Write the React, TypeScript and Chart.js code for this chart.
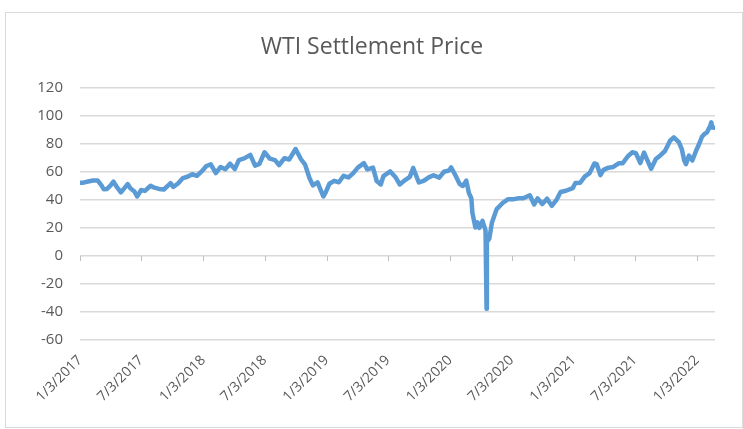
import React, { useEffect, useRef } from "react";
import { Chart, registerables } from "chart.js";

Chart.register(...registerables);

const chartTitle = "WTI Settlement Price";
const axisStart = "2017-01-03";
const xTickLabels = [
  "1/3/2017", "7/3/2017", "1/3/2018", "7/3/2018", "1/3/2019", "7/3/2019",
  "1/3/2020", "7/3/2020", "1/3/2021", "7/3/2021", "1/3/2022",
];
const yMin = -60;
const yMax = 120;
const yStep = 20;

const dates2017 = [
  "2017-01-03", "2017-01-13", "2017-01-27", "2017-02-10", "2017-02-24", "2017-03-08", "2017-03-14",
  "2017-03-24", "2017-04-03", "2017-04-12", "2017-04-21", "2017-05-04", "2017-05-12", "2017-05-24",
  "2017-06-01", "2017-06-13", "2017-06-21", "2017-07-03", "2017-07-14", "2017-07-31", "2017-08-11",
  "2017-08-25", "2017-09-08", "2017-09-22", "2017-09-28", "2017-10-06", "2017-10-20", "2017-11-03",
  "2017-11-17", "2017-12-01", "2017-12-15", "2017-12-29",
];
const prices2017 = [
  52.3, 52.4, 53.2, 53.9, 54.0, 50.3, 47.7,
  47.9, 50.2, 53.1, 49.6, 45.5, 47.8, 51.4,
  48.4, 46.1, 42.5, 47.1, 46.5, 50.2, 48.8,
  47.9, 47.5, 50.7, 52.1, 49.3, 51.8, 55.6,
  56.6, 58.4, 57.3, 60.4,
];

const dates2018 = [
  "2018-01-12", "2018-01-25", "2018-02-09", "2018-02-23", "2018-03-09", "2018-03-23", "2018-04-06",
  "2018-04-18", "2018-05-04", "2018-05-22", "2018-06-05", "2018-06-18", "2018-07-03", "2018-07-19",
  "2018-08-03", "2018-08-15", "2018-08-31", "2018-09-14", "2018-10-03", "2018-10-19", "2018-10-31",
  "2018-11-13", "2018-11-23", "2018-12-07", "2018-12-24", "2018-12-31",
];
const prices2018 = [
  64.3, 65.5, 59.2, 63.6, 62.0, 65.9, 62.1,
  68.5, 69.7, 72.2, 64.5, 65.8, 74.1, 69.5,
  68.5, 65.0, 69.8, 68.9, 76.4, 69.1, 65.3,
  55.7, 50.4, 52.6, 42.5, 45.4,
];

const dates2019 = [
  "2019-01-11", "2019-01-25", "2019-02-08", "2019-02-22", "2019-03-08", "2019-03-22", "2019-04-05",
  "2019-04-23", "2019-05-03", "2019-05-20", "2019-05-31", "2019-06-12", "2019-06-20", "2019-07-10",
  "2019-07-26", "2019-08-07", "2019-08-23", "2019-09-06", "2019-09-16", "2019-09-30", "2019-10-03",
  "2019-10-18", "2019-11-01", "2019-11-15", "2019-12-02", "2019-12-16", "2019-12-31",
];
const prices2019 = [
  51.6, 53.7, 52.7, 57.3, 56.1, 59.0, 63.1,
  66.3, 61.9, 63.1, 53.5, 51.1, 57.1, 60.4,
  56.2, 51.1, 54.2, 56.5, 62.9, 54.1, 52.5,
  53.8, 56.2, 57.7, 56.0, 60.2, 61.1,
];

const dates2020 = [
  "2020-01-06", "2020-01-17", "2020-01-31", "2020-02-10", "2020-02-20", "2020-02-28", "2020-03-06",
  "2020-03-09", "2020-03-18", "2020-03-24", "2020-03-30", "2020-04-08", "2020-04-17", "2020-04-20",
  "2020-04-21", "2020-04-28", "2020-05-06", "2020-05-20", "2020-06-08", "2020-06-22", "2020-07-10",
  "2020-07-24", "2020-08-07", "2020-08-26", "2020-09-08", "2020-09-18", "2020-10-02", "2020-10-16",
  "2020-10-30", "2020-11-13", "2020-11-25", "2020-12-11", "2020-12-31",
];
const prices2020 = [
  63.3, 58.5, 51.6, 50.0, 53.8, 44.8, 41.3,
  31.1, 20.4, 24.0, 20.1, 25.1, 18.3, -37.6,
  10.0, 12.3, 24.0, 33.5, 38.2, 40.5, 40.6,
  41.3, 41.2, 43.4, 36.8, 41.1, 37.1, 40.9,
  35.8, 40.1, 45.7, 46.6, 48.5,
];

const dates2021 = [
  "2021-01-08", "2021-01-22", "2021-02-05", "2021-02-19", "2021-03-05", "2021-03-12", "2021-03-23",
  "2021-04-01", "2021-04-16", "2021-04-30", "2021-05-17", "2021-05-28", "2021-06-11", "2021-06-25",
  "2021-07-06", "2021-07-19", "2021-07-30", "2021-08-20", "2021-09-03", "2021-09-17", "2021-09-30",
  "2021-10-15", "2021-10-26", "2021-11-10", "2021-11-19", "2021-11-26", "2021-12-01", "2021-12-10",
  "2021-12-20", "2021-12-31",
];
const prices2021 = [
  52.2, 52.3, 56.9, 59.2, 66.1, 65.6, 57.8,
  61.5, 63.1, 63.6, 66.3, 66.3, 70.9, 74.1,
  73.4, 66.4, 73.9, 62.3, 69.3, 72.0, 75.0,
  82.3, 84.7, 81.3, 76.1, 68.2, 65.6, 71.7,
  68.2, 75.2,
];

const dates2022 = [
  "2022-01-07", "2022-01-18", "2022-01-26", "2022-02-01", "2022-02-11", "2022-02-14", "2022-02-17",
  "2022-02-25",
];
const prices2022 = [78.9, 85.4, 87.4, 88.2, 93.1, 95.5, 91.8, 91.6];

const DAY = 86400000;
function isoDay(iso: string): number {
  const [y, m, d] = iso.split("-").map(Number);
  const [y0, m0, d0] = axisStart.split("-").map(Number);
  return Math.round((Date.UTC(y, m - 1, d) - Date.UTC(y0, m0 - 1, d0)) / DAY);
}
function usDay(label: string): number {
  const [m, d, y] = label.split("/").map(Number);
  return isoDay(`${y}-${String(m).padStart(2, "0")}-${String(d).padStart(2, "0")}`);
}

const allDates = [...dates2017, ...dates2018, ...dates2019, ...dates2020, ...dates2021, ...dates2022];
const allPrices = [...prices2017, ...prices2018, ...prices2019, ...prices2020, ...prices2021, ...prices2022];
const tickValues = xTickLabels.map(usDay);

const FONT = "'Open Sans', sans-serif";
const TEXT = "#595959";
const GRID = "#d9d9d9";

export default function App() {
  const ref = useRef<HTMLCanvasElement | null>(null);

  useEffect(() => {
    if (!ref.current) return;
    const points = allDates.map((d, i) => ({ x: isoDay(d), y: allPrices[i] }));

    const decor = {
      id: "decor",
      beforeDraw(chart: any) {
        const c = chart.ctx;
        c.save();
        c.fillStyle = "#ffffff";
        c.fillRect(0, 0, chart.width, chart.height);
        c.strokeStyle = GRID;
        c.lineWidth = 1;
        c.strokeRect(5.5, 12.5, 737, 415);
        c.restore();
      },
      beforeDatasetsDraw(chart: any) {
        const c = chart.ctx;
        const xs = chart.scales.x;
        const y0 = chart.scales.y.getPixelForValue(0);
        c.save();
        c.strokeStyle = "#bfbfbf";
        c.lineWidth = 1;
        c.beginPath();
        tickValues.forEach((v) => {
          const px = Math.round(xs.getPixelForValue(v)) + 0.5;
          c.moveTo(px, y0);
          c.lineTo(px, y0 + 5);
        });
        c.stroke();
        c.restore();
      },
      afterDraw(chart: any) {
        const c = chart.ctx;
        c.save();
        c.fillStyle = TEXT;
        c.font = `23px ${FONT}`;
        c.textAlign = "center";
        c.textBaseline = "middle";
        c.fillText(chartTitle, 372, 47);
        c.restore();
      },
    };

    const chart = new Chart(ref.current, {
      type: "line",
      data: {
        datasets: [
          {
            label: chartTitle,
            data: points,
            borderColor: "#5b9bd5",
            backgroundColor: "#5b9bd5",
            borderWidth: 4.5,
            pointRadius: 0,
            tension: 0,
            borderJoinStyle: "round",
            borderCapStyle: "round",
          },
        ],
      },
      options: {
        animation: false,
        responsive: false,
        layout: { padding: { top: 88, right: 28, bottom: 0, left: 0 } },
        plugins: { legend: { display: false }, title: { display: false }, tooltip: { enabled: false } },
        scales: {
          x: {
            type: "linear",
            min: 0,
            max: isoDay(allDates[allDates.length - 1]),
            grid: { display: false },
            border: { display: false },
            afterBuildTicks: (s: any) => {
              s.ticks = tickValues.map((v) => ({ value: v }));
            },
            afterFit: (s: any) => {
              s.height = 89;
            },
            ticks: {
              autoSkip: false,
              minRotation: 45,
              maxRotation: 45,
              padding: 4,
              color: TEXT,
              font: { family: FONT, size: 14 },
              callback: (v: any) => {
                const i = tickValues.indexOf(Number(v));
                return i >= 0 ? xTickLabels[i] : "";
              },
            },
          },
          y: {
            min: yMin,
            max: yMax,
            grid: { color: GRID, lineWidth: 1.5, drawTicks: false },
            border: { display: false },
            afterFit: (s: any) => {
              s.width = 80;
            },
            ticks: {
              stepSize: yStep,
              padding: 17,
              color: TEXT,
              font: { family: FONT, size: 15 },
            },
          },
        },
      },
      plugins: [decor],
    });
    return () => chart.destroy();
  }, []);

  return (
    <div style={{ position: "absolute", left: 0, top: 0, width: 743, height: 429 }}>
      <canvas ref={ref} width={743} height={429} style={{ width: 743, height: 429 }} />
    </div>
  );
}
